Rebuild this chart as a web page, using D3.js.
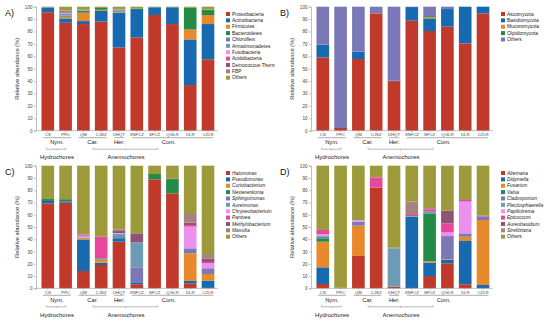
<!DOCTYPE html>
<html>
<head>
<meta charset="utf-8">
<script src="https://cdn.jsdelivr.net/npm/d3@7"></script>
<style>
  body { margin: 0; background: #fff; }
  svg { font-family: "Liberation Sans", Arial, sans-serif; }
</style>
</head>
<body>
<div id="chart"></div>
<script>
// samples on the x axis (same for all four panels)
var samples = ["CS", "PFC", "QM", "CJSZ", "DHQT", "XNFCZ", "SFCZ", "QGLR", "DLR", "CZLR"];
var groups = [
  {name: "Nym.", from: 0, to: 1},
  {name: "Car.", from: 2, to: 3},
  {name: "Her.", from: 4, to: 4},
  {name: "Com.", from: 5, to: 9}
];
var yTicks = [0, 10, 20, 30, 40, 50, 60, 70, 80, 90, 100];

var palette = ["#c1392b", "#1769b0", "#e8892b", "#238a48", "#7b78b8", "#6d9bb6",
               "#ec90f0", "#e8489c", "#8d5474", "#a88080", "#9c9a3b"];

// A) bacterial phyla
var bacPhyla = ["Proteobacteria", "Actinobacteria", "Firmicutes", "Bacteroidetes", "Chloroflexi",
  "Armatimonadetes", "Fusobacteria", "Acidobacteria", "Deinococcus-Thermus", "FBP", "Others"];
var bacPhylaValues = [
  [95.5, 3.8, 0.2, 0.2, 0, 0, 0, 0, 0, 0, 0.3],
  [87, 3.5, 1.5, 0.5, 0.5, 1.5, 0.3, 0.3, 0.5, 1.4, 3.0],
  [86, 2.4, 6.8, 1.3, 0.3, 0.3, 0, 0, 0, 0.4, 2.5],
  [88, 8.6, 0.9, 1.5, 0, 0, 0, 0, 0, 0, 1.0],
  [67.2, 28, 0.5, 0.5, 0.5, 1, 0, 0, 0, 0.5, 1.8],
  [75.3, 22.8, 0, 0.3, 0, 0, 0, 0, 0, 0, 1.6],
  [93.3, 6.2, 0, 0, 0, 0, 0, 0, 0, 0, 0.5],
  [86, 13.5, 0, 0, 0, 0, 0, 0, 0, 0, 0.5],
  [36.8, 36.8, 8, 17.8, 0, 0, 0, 0, 0, 0, 0.6],
  [57.5, 28.5, 7.3, 4, 0, 0.5, 0, 0, 0, 0, 2.2]
];

// B) fungal phyla
var funPhyla = ["Ascomycota", "Basidiomycota", "Mucoromycota", "Olpidiomycota", "Others"];
var funPhylaColors = ["#c1392b", "#1769b0", "#e8892b", "#238a48", "#7b78b8"];
var funPhylaValues = [
  [59.1, 10, 0.2, 0, 30.7],
  [2.2, 0, 0, 0, 97.8],
  [57.8, 5.9, 0, 0, 36.3],
  [94.6, 0, 0, 0, 5.4],
  [40, 0.3, 0, 0, 59.7],
  [88.7, 11, 0, 0, 0.3],
  [80.4, 10.2, 1.0, 0.8, 7.6],
  [83.9, 14.2, 0, 0, 1.9],
  [70.4, 29.6, 0, 0, 0],
  [94.6, 5.4, 0, 0, 0]
];

// C) bacterial genera
var bacGenera = ["Halomonas", "Pseudomonas", "Curtobacterium", "Nesterenkonia", "Sphingomonas",
  "Aureimonas", "Chryseobacterium", "Pantoea", "Methylobacterium", "Massilia", "Others"];
var bacGeneraValues = [
  [69.3, 1.9, 0, 1.6, 0, 0, 0, 0, 0, 0, 27.2],
  [69.8, 1.0, 0, 1.9, 0, 0, 0, 0, 0, 0, 27.3],
  [14.1, 25.3, 1.1, 0.3, 0.5, 0.3, 1.2, 0.8, 0.3, 0.3, 55.8],
  [19, 1.9, 2.7, 0.5, 0.6, 0, 0, 17.4, 0, 0, 57.9],
  [38, 2.8, 0, 0.8, 1.0, 2.0, 0.5, 0, 1.6, 1.4, 51.9],
  [3.3, 1.6, 0, 0, 12.2, 20.4, 0, 0, 7.3, 0, 55.2],
  [88.9, 0, 0, 4.3, 0, 0, 0, 0, 0, 0, 6.8],
  [77.4, 0, 0, 11.7, 0, 0, 0, 0.3, 0, 0, 10.6],
  [4.1, 1.9, 22.5, 0, 4.1, 0, 17.7, 1.3, 1.9, 7.1, 39.4],
  [0.3, 6.0, 5.4, 0, 4.6, 0, 4.1, 1.1, 2.7, 3.8, 72]
];

// D) fungal genera
var funGenera = ["Alternaria", "Didymella", "Fusarium", "Valsa", "Cladosporium",
  "Plectosphaerella", "Papiliotrema", "Epicoccum", "Aureobasidium", "Strelitziana", "Others"];
var funGeneraValues = [
  [3.5, 13.6, 20.9, 2.8, 1.3, 1, 1, 3.5, 0, 0, 52.4],
  [0.5, 0, 0, 0, 0, 0, 0, 0, 0, 0, 99.5],
  [26.4, 0, 24.7, 0, 3.2, 0, 1.3, 0, 0, 0, 44.4],
  [82.1, 0, 0, 0, 0, 0, 0, 8.4, 0, 0, 9.5],
  [1.4, 0, 0, 0, 0, 31.2, 0, 0, 0, 0.8, 66.6],
  [0, 58.4, 0, 0, 0, 0.5, 0, 0.9, 0, 10.9, 29.3],
  [10, 10.9, 1.1, 39.1, 0, 1.4, 0, 1.9, 0.8, 0, 34.8],
  [20.4, 2.7, 0.5, 0, 19, 0, 3, 7.3, 10.3, 0, 36.8],
  [3.3, 35.3, 3.5, 0, 2.7, 0, 25.9, 1.3, 0, 0, 28],
  [0, 2.7, 53, 0, 2.7, 0, 0, 0.8, 0, 0, 40.8]
];

var svg = d3.select("#chart").append("svg")
  .attr("width", 550)
  .attr("height", 323);

var defs = svg.append("defs");

function drawPanel(id, ox, oy, top, bottom, letter, names, colors, values, italic) {
  defs.append("clipPath").attr("id", "clip" + id)
    .append("rect").attr("x", 0).attr("y", 0).attr("width", 275).attr("height", 162);

  var g = svg.append("g")
    .attr("transform", "translate(" + ox + "," + oy + ")")
    .attr("clip-path", "url(#clip" + id + ")");

  var x = d3.scaleBand()
    .domain(samples)
    .range([38.8, 217])
    .paddingInner(0.29)
    .paddingOuter(0.15);

  var y = d3.scaleLinear()
    .domain([0, 100])
    .range([bottom, top]);

  // stacked bars
  var rows = values.map(function(v, i) {
    var o = {sample: samples[i]};
    names.forEach(function(n, j) { o[n] = v[j]; });
    return o;
  });
  var series = d3.stack().keys(names)(rows);

  g.selectAll("g.layer")
    .data(series)
    .enter()
    .append("g")
      .attr("class", "layer")
      .attr("fill", function(d, i) { return colors[i]; })
    .selectAll("rect")
    .data(function(d) { return d; })
    .enter()
    .append("rect")
      .attr("x", function(d) { return x(d.data.sample); })
      .attr("y", function(d) { return y(d[1]); })
      .attr("width", x.bandwidth())
      .attr("height", function(d) { return Math.max(0, y(d[0]) - y(d[1])); });

  // y axis
  var yAxis = g.append("g")
    .attr("transform", "translate(36,0)")
    .call(d3.axisLeft(y).tickValues(yTicks).tickSize(2).tickPadding(1.5));
  yAxis.selectAll("text").style("font-size", "4.6px").attr("fill", "#444");
  yAxis.selectAll("line").attr("stroke", "#999").attr("stroke-width", 0.6);
  yAxis.select(".domain").attr("stroke", "#999").attr("stroke-width", 0.6);

  // x axis
  var xAxis = g.append("g")
    .attr("transform", "translate(0," + bottom + ")")
    .call(d3.axisBottom(x).tickSize(1.5).tickPadding(1.2).tickSizeOuter(0));
  xAxis.selectAll("text").style("font-size", "4.3px").attr("fill", "#444");
  xAxis.selectAll("line").attr("stroke", "#999").attr("stroke-width", 0.6);
  xAxis.select(".domain").attr("stroke", "#999").attr("stroke-width", 0.6)
    .attr("d", "M36,0H218");

  // y title
  g.append("text")
    .attr("transform", "translate(19," + ((top + bottom) / 2) + ") rotate(-90)")
    .attr("text-anchor", "middle")
    .style("font-size", "5.8px")
    .attr("fill", "#333")
    .text("Relative abundance (%)");

  // panel letter
  g.append("text")
    .attr("x", 5)
    .attr("y", 15.5)
    .style("font-size", "9px")
    .attr("fill", "#111")
    .text(letter);

  // group underlines and names
  groups.forEach(function(gr) {
    var x0 = x(samples[gr.from]) + 1.5;
    var x1 = x(samples[gr.to]) + x.bandwidth() - 1;
    g.append("line")
      .attr("x1", x0).attr("x2", x1)
      .attr("y1", bottom + 7).attr("y2", bottom + 7)
      .attr("stroke", "#888").attr("stroke-width", 0.7);
    g.append("text")
      .attr("x", (x0 + x1) / 2 - (gr.name == "Com." ? 4 : 0))
      .attr("y", bottom + 13.5)
      .attr("text-anchor", "middle")
      .style("font-size", "5.8px")
      .attr("fill", "#222")
      .text(gr.name);
  });

  // hydrochores / anemochores brackets
  var brackets = [
    {name: "Hydrochores", x0: 46.5, x1: 66, tx: 57},
    {name: "Anemochores", x0: 93, x1: 158, tx: 126}
  ];
  brackets.forEach(function(b) {
    var by = bottom + 18.5;
    var mid = (b.x0 + b.x1) / 2;
    g.append("path")
      .attr("d", "M" + b.x0 + "," + (by - 1.5) + "V" + by + "H" + b.x1 + "V" + (by - 1.5) +
        "M" + mid + "," + by + "v1.2")
      .attr("fill", "none")
      .attr("stroke", "#888")
      .attr("stroke-width", 0.6);
    g.append("text")
      .attr("x", b.tx)
      .attr("y", bottom + 28.5)
      .attr("text-anchor", "middle")
      .style("font-size", "6px")
      .attr("fill", "#222")
      .text(b.name);
  });

  // legend
  var legend = g.append("g").attr("transform", "translate(226," + (top + 7.3) + ")");
  names.forEach(function(n, i) {
    legend.append("rect")
      .attr("x", 0).attr("y", i * 6.37 - 2)
      .attr("width", 4).attr("height", 4)
      .attr("fill", colors[i]);
    legend.append("text")
      .attr("x", 6).attr("y", i * 6.37 + 1.7)
      .style("font-size", "4.9px")
      .style("font-style", (italic && n != "Others") ? "italic" : "normal")
      .attr("fill", "#222")
      .text(n);
  });
}

drawPanel("A", 0, 0, 6.7, 130.7, "A)", bacPhyla, palette, bacPhylaValues, false);
drawPanel("B", 275, 0, 6.7, 130.7, "B)", funPhyla, funPhylaColors, funPhylaValues, false);
drawPanel("C", 0, 159, 6.7, 129.3, "C)", bacGenera, palette, bacGeneraValues, true);
drawPanel("D", 275, 159, 6.7, 129.3, "D)", funGenera, palette, funGeneraValues, true);
</script>
</body>
</html>
